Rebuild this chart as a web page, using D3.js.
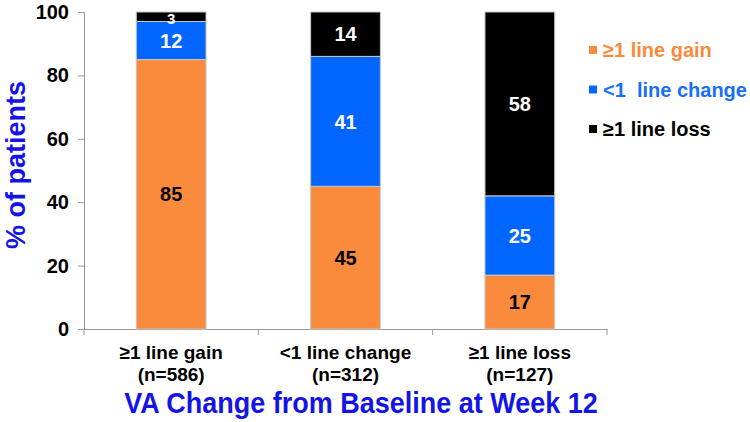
<!DOCTYPE html>
<html>
<head>
<meta charset="utf-8">
<script src="https://cdn.jsdelivr.net/npm/d3@7"></script>
<style>
  body { margin: 0; background: #fff; }
  svg { font-family: "Liberation Sans", Arial, sans-serif; font-weight: bold; }
</style>
</head>
<body>
<svg id="chart" width="750" height="422"></svg>
<script>
const categories = ["≥1 line gain", "<1 line change", "≥1 line loss"];
const nLabels = ["(n=586)", "(n=312)", "(n=127)"];
const seriesNames = ["≥1 line gain", "<1  line change", "≥1 line loss"];
const gain = [85, 45, 17];
const change = [12, 41, 25];
const loss = [3, 14, 58];
const yTicks = [0, 20, 40, 60, 80, 100];

const colors = ["#FA8A3C", "#0066FF", "#000000"];
const labelColors = ["#000", "#fff", "#fff"];
const legendColors = ["#FA8A3C", "#1A6EF5", "#000000"];

const svg = d3.select("#chart");

const rows = categories.map((c, i) => ({ cat: c, gain: gain[i], change: change[i], loss: loss[i] }));
const keys = ["gain", "change", "loss"];
const stacked = d3.stack().keys(keys)(rows);

const x = d3.scaleBand().domain(categories).range([84, 607]).paddingInner(0.6).paddingOuter(0.3);
const y = d3.scaleLinear().domain([0, 100]).range([329, 12]);

// y axis
const yAxis = svg.append("g")
  .attr("transform", "translate(84,0)")
  .call(d3.axisLeft(y).tickValues(yTicks).tickSize(6).tickPadding(9));
yAxis.select(".domain").attr("stroke", "#999");
yAxis.selectAll(".tick line").attr("stroke", "#999");
yAxis.selectAll(".tick text")
  .style("font-size", "20px")
  .style("font-weight", "bold")
  .style("font-family", "Liberation Sans, Arial, sans-serif")
  .attr("fill", "#000");

// x axis baseline with ticks at band boundaries
const xAxis = svg.append("g")
  .attr("transform", "translate(0,329)")
  .call(d3.axisBottom(x).tickSize(0).tickFormat(""));
xAxis.select(".domain").attr("stroke", "#999");
const bounds = [0, 1, 2, 3].map((i) => x.range()[0] + i * x.step());
xAxis.selectAll(".bound")
  .data(bounds)
  .join("line")
  .attr("class", "bound")
  .attr("x1", (d) => d).attr("x2", (d) => d)
  .attr("y1", 0).attr("y2", 6)
  .attr("stroke", "#999");

// bars
const layers = svg.append("g").selectAll("g")
  .data(stacked)
  .join("g")
  .attr("fill", (d, i) => colors[i]);

layers.selectAll("rect")
  .data((d) => d)
  .join("rect")
  .attr("x", (d) => x(d.data.cat))
  .attr("y", (d) => y(d[1]))
  .attr("width", x.bandwidth())
  .attr("height", (d) => y(d[0]) - y(d[1]))
  .attr("stroke", "#c8c8c8")
  .attr("stroke-width", 1);

// value labels
stacked.forEach((layer, li) => {
  svg.append("g").selectAll("text")
    .data(layer)
    .join("text")
    .attr("x", (d) => x(d.data.cat) + x.bandwidth() / 2)
    .attr("y", (d) => (y(d[0]) + y(d[1])) / 2)
    .attr("dy", (d) => (d[1] - d[0] < 5 ? "0.5em" : "0.36em"))
    .attr("text-anchor", "middle")
    .style("font-size", (d) => (d[1] - d[0] < 5 ? "15px" : "20px"))
    .attr("fill", labelColors[li])
    .text((d) => d[1] - d[0]);
});

// category labels
const catG = svg.append("g");
categories.forEach((c, i) => {
  const cx = x(c) + x.bandwidth() / 2;
  catG.append("text").attr("x", cx).attr("y", 359).attr("text-anchor", "middle")
    .style("font-size", "19px").text(c);
  catG.append("text").attr("x", cx).attr("y", 381).attr("text-anchor", "middle")
    .style("font-size", "19px").text(nLabels[i]);
});

// legend
const legend = svg.append("g");
seriesNames.forEach((s, i) => {
  const by = 57 + i * 39.5;
  legend.append("rect").attr("x", 589).attr("y", by - 11).attr("width", 8).attr("height", 8)
    .attr("fill", colors[i]);
  legend.append("text").attr("x", 603).attr("y", by)
    .style("font-size", "20px").style("white-space", "pre")
    .attr("fill", legendColors[i]).text(s);
});

// axis titles
svg.append("text")
  .attr("transform", "translate(25,165) rotate(-90)")
  .attr("text-anchor", "middle")
  .style("font-size", "27px")
  .attr("fill", "#1414E6")
  .text("% of patients");

svg.append("text")
  .attr("transform", "translate(361,413) scale(1,1.1)")
  .attr("text-anchor", "middle")
  .style("font-size", "27px")
  .attr("fill", "#1414E6")
  .text("VA Change from Baseline at Week 12");
</script>
</body>
</html>
